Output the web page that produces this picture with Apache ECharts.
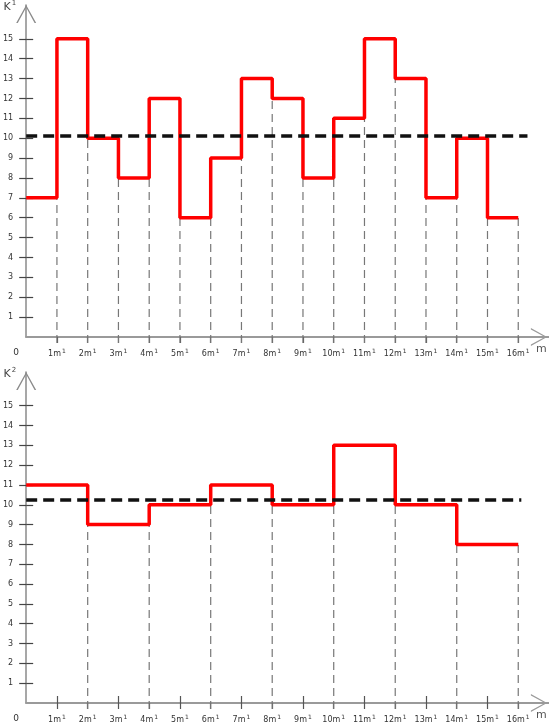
<!DOCTYPE html>
<html>
<head>
<meta charset="utf-8">
<script src="https://cdn.jsdelivr.net/npm/echarts@6/dist/echarts.min.js"></script>
<style>
  html, body { margin: 0; padding: 0; background: #fff; }
  #main { width: 549px; height: 728px; }
</style>
</head>
<body>
<div id="main"></div>
<script>
// K1: value on each interval [i, i+1], i = 0..15
const k1Values = [7, 15, 10, 8, 12, 6, 9, 13, 12, 8, 11, 15, 13, 7, 10, 6];
// K2: value on each interval [2i, 2i+2], i = 0..7
const k2Values = [11, 9, 10, 11, 10, 13, 10, 8];
const k2Step = 2;
// tick labels on the m axis
const mTicks = [1, 2, 3, 4, 5, 6, 7, 8, 9, 10, 11, 12, 13, 14, 15, 16];
const kTicks = [1, 2, 3, 4, 5, 6, 7, 8, 9, 10, 11, 12, 13, 14, 15];

const font = 'DejaVu Sans';
const mean = arr => arr.reduce((a, b) => a + b, 0) / arr.length;

// step points: value holds until the next point
const stepPoints = (vals, w) => {
    const pts = vals.map((v, i) => [i * w, v]);
    pts.push([vals.length * w, vals[vals.length - 1]]);
    return pts;
};

// gray dashed guides at each break: up to the lower of the two sides
const guides = (vals, w) => vals.map((v, i) => {
    const next = i + 1 < vals.length ? vals[i + 1] : v;
    return [(i + 1) * w, Math.min(v, next)];
});

// open chevron arrow head (pointing up, rotated by echarts)
const chevron = 'path://M0,18 L10,0 L20,18 L18.4,18 L10,2.6 L1.6,18 Z';

const xAxisBase = (grid) => ({
    type: 'value',
    gridIndex: grid,
    min: 0,
    max: 17,
    position: 'bottom',
    splitLine: { show: false },
    axisLine: {
        onZero: false,
        lineStyle: { color: '#9a9a9a', width: 2.2 },
        symbol: ['none', chevron],
        symbolSize: [18, 20],
        symbolOffset: [0, -10]
    },
    axisTick: {
        customValues: mTicks,
        length: 6,
        lineStyle: { color: '#555', width: 1.2 }
    },
    axisLabel: {
        customValues: [0].concat(mTicks),
        margin: 11,
        color: '#333',
        formatter: v => v === 0 ? '{z|0}' : '{a|' + v + 'm}{s|1}',
        rich: {
            a: { fontFamily: font, fontSize: 8, color: '#333' },
            s: { fontFamily: font, fontSize: 6, color: '#333', padding: [0, 0, 6, 1] },
            z: { fontFamily: font, fontSize: 9, color: '#333', padding: [0, 20, 8, 0] }
        }
    },
    name: 'm',
    nameLocation: 'end',
    nameGap: -13,
    nameTextStyle: {
        fontFamily: font, fontSize: 11, color: '#555',
        verticalAlign: 'top', padding: [7, 0, 0, 0]
    }
});

const yAxisBase = (grid, idx) => ({
    type: 'value',
    gridIndex: grid,
    min: 0,
    max: 16.7,
    position: 'left',
    splitLine: { show: false },
    axisLine: {
        lineStyle: { color: '#8a8a8a', width: 1.5 },
        symbol: ['none', chevron],
        symbolSize: [22, 18],
        symbolOffset: [0, -9]
    },
    axisTick: {
        customValues: kTicks,
        length: 7,
        lineStyle: { color: '#444', width: 1.2 }
    },
    axisLabel: {
        customValues: kTicks,
        margin: 13,
        fontFamily: font,
        fontSize: 8,
        color: '#333'
    },
    name: '{k|K}{s|' + idx + '}',
    nameLocation: 'end',
    nameGap: -9,
    nameTextStyle: {
        align: 'right',
        padding: [0, 10, 0, 0],
        rich: {
            k: { fontFamily: font, fontSize: 11, color: '#444' },
            s: { fontFamily: font, fontSize: 7, color: '#444', padding: [0, 0, 7, 1] }
        }
    }
});

// extra axes that only draw the inner half of crossing ticks
const yInner = (grid) => ({
    type: 'value', gridIndex: grid, min: 0, max: 16.7, position: 'left',
    splitLine: { show: false }, axisLine: { show: false }, axisLabel: { show: false },
    axisTick: { inside: true, customValues: kTicks, length: 7, lineStyle: { color: '#444', width: 1.2 } }
});
const xInner = (grid, vals) => ({
    type: 'value', gridIndex: grid, min: 0, max: 17, position: 'bottom',
    splitLine: { show: false }, axisLine: { show: false }, axisLabel: { show: false },
    axisTick: { inside: true, customValues: vals, length: 7, lineStyle: { color: '#555', width: 1.2 } }
});

const guideSeries = (xi, yi, data) => ({
    type: 'custom',
    xAxisIndex: xi,
    yAxisIndex: yi,
    silent: true,
    z: 1,
    renderItem: (params, api) => {
        const p0 = api.coord([api.value(0), 0]);
        const p1 = api.coord([api.value(0), api.value(1)]);
        return {
            type: 'line',
            shape: { x1: p0[0], y1: p0[1] + 6, x2: p1[0], y2: p1[1] },
            style: { stroke: '#777', lineWidth: 1.2, lineDash: [8, 5] }
        };
    },
    data
});

const stepSeries = (xi, yi, data, avg, endX) => ({
    type: 'line',
    xAxisIndex: xi,
    yAxisIndex: yi,
    step: 'end',
    showSymbol: false,
    silent: true,
    z: 3,
    lineStyle: { color: '#ff0000', width: 3.5 },
    data,
    markLine: {
        silent: true,
        symbol: 'none',
        z: 4,
        label: { show: false },
        lineStyle: { color: '#111', width: 3.5, type: [11, 6] },
        data: [[{ coord: [0, avg] }, { coord: [endX, avg] }]]
    }
});

const chart = echarts.init(document.getElementById('main'));
chart.setOption({
    animation: false,
    grid: [
        { left: 25, right: 0, top: 4, height: 333 },
        { left: 25, right: 0, top: 372, height: 331 }
    ],
    xAxis: [xAxisBase(0), xAxisBase(1), xInner(1, [1, 3, 5, 7, 9, 11, 13, 15])],
    yAxis: [yAxisBase(0, 1), yInner(0), yAxisBase(1, 2), yInner(1)],
    series: [
        guideSeries(0, 0, guides(k1Values, 1)),
        stepSeries(0, 0, stepPoints(k1Values, 1), mean(k1Values), 16.3),
        guideSeries(1, 2, guides(k2Values, k2Step)),
        stepSeries(1, 2, stepPoints(k2Values, k2Step), mean(k2Values), 16.1)
    ]
});
</script>
</body>
</html>
